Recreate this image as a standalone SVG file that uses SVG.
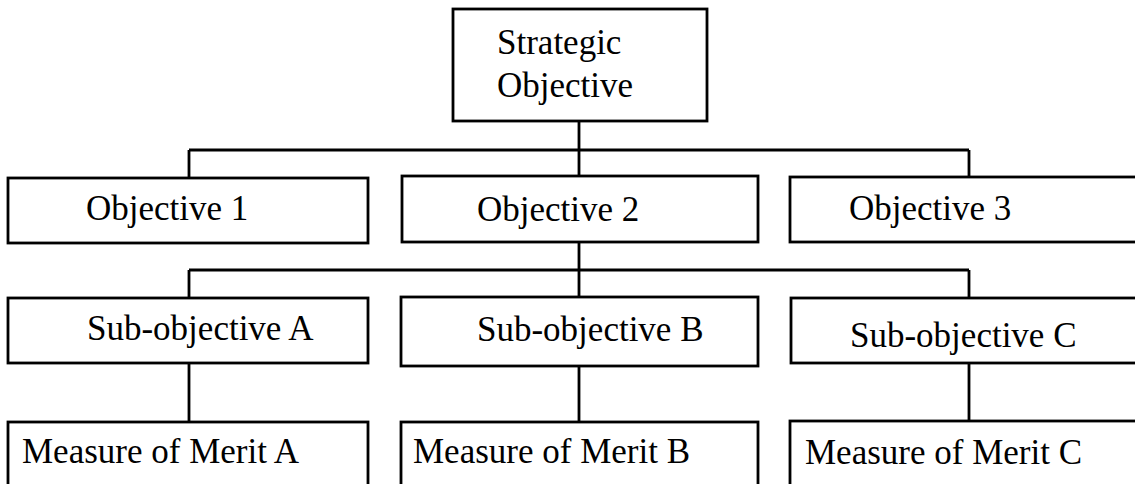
<svg xmlns="http://www.w3.org/2000/svg" width="1135" height="484" viewBox="0 0 1135 484">
<style>
.box{fill:#fff;stroke:#000;stroke-width:2.8}
.t{font-family:"Liberation Serif","Times New Roman",serif;font-size:35px;fill:#000}
.c{fill:none;stroke:#000;stroke-width:2.8}
</style>
<rect width="1135" height="484" fill="#fff"/>
<g id="connectors">
<path class="c" d="M579 121V150M189 150H969M189 150V178M579 150V176M969 150V177"/>
<path class="c" d="M579 242V270M189 270H969M189 270V298M579 270V297M969 270V298"/>
<path class="c" d="M189 363V422M579 366V422M969 363V421"/>
</g>
<g id="strategic">
<rect class="box" x="453" y="9" width="254" height="112"/>
<text class="t" x="497" y="54">Strategic</text>
<text class="t" x="497" y="97">Objective</text>
</g>
<g id="obj1">
<rect class="box" x="8" y="178" width="360" height="65"/>
<text class="t" x="86" y="220">Objective 1</text>
</g>
<g id="obj2">
<rect class="box" x="402" y="176" width="356" height="66"/>
<text class="t" x="477" y="221">Objective 2</text>
</g>
<g id="obj3">
<rect class="box" x="790" y="177" width="360" height="65"/>
<text class="t" x="849" y="220">Objective 3</text>
</g>
<g id="subA">
<rect class="box" x="8" y="298" width="360" height="65"/>
<text class="t" x="87" y="340">Sub-objective A</text>
</g>
<g id="subB">
<rect class="box" x="401" y="297" width="357" height="69"/>
<text class="t" x="477" y="341">Sub-objective B</text>
</g>
<g id="subC">
<rect class="box" x="791" y="298" width="360" height="65"/>
<text class="t" x="850" y="347">Sub-objective C</text>
</g>
<g id="mA">
<rect class="box" x="8" y="422" width="360" height="80"/>
<text class="t" x="22" y="463">Measure of Merit A</text>
</g>
<g id="mB">
<rect class="box" x="401" y="422" width="357" height="80"/>
<text class="t" x="413" y="463">Measure of Merit B</text>
</g>
<g id="mC">
<rect class="box" x="790" y="421" width="360" height="80"/>
<text class="t" x="805" y="464">Measure of Merit C</text>
</g>
</svg>
